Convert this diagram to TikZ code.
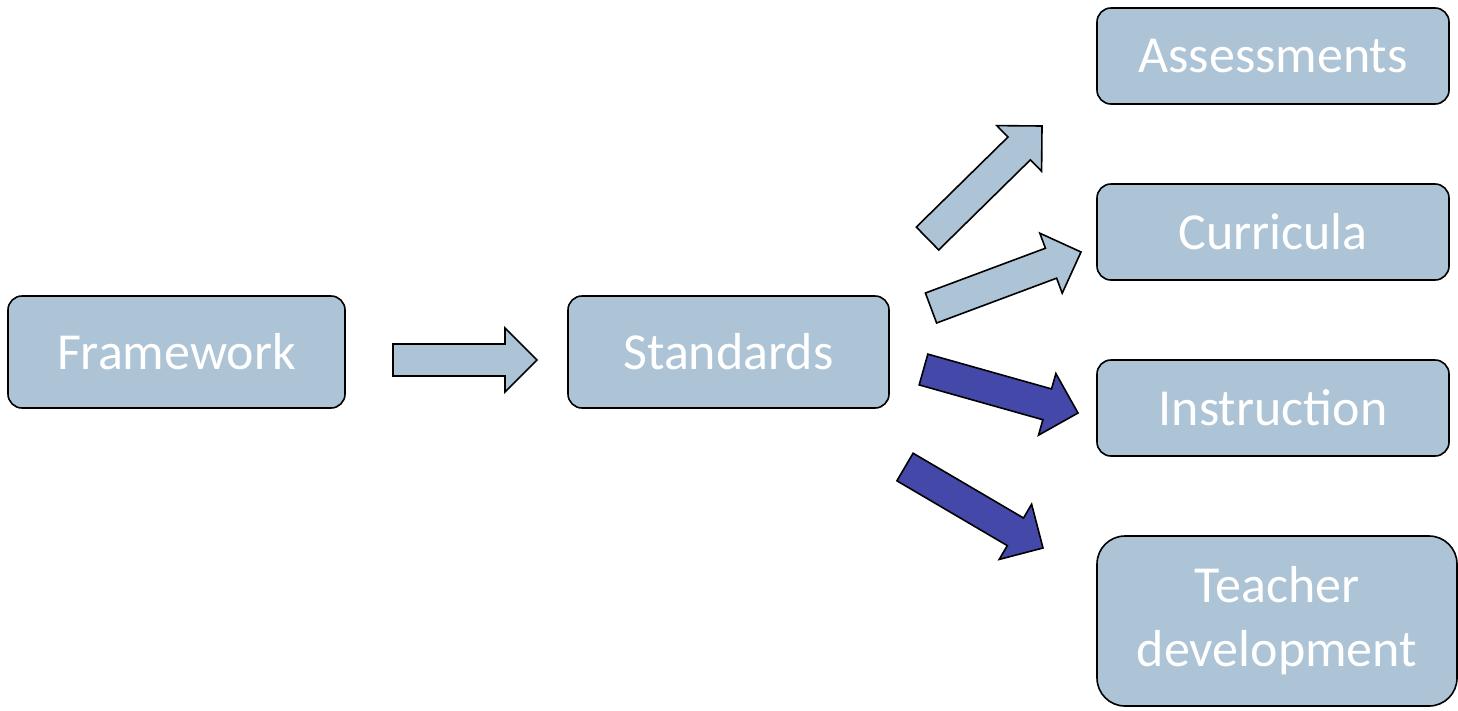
\documentclass[tikz,border=0pt]{standalone}
\usepackage{fontspec}
\setmainfont{Carlito}
\usetikzlibrary{calc}
\definecolor{boxblue}{HTML}{ADC3D6}
\definecolor{darkblue}{HTML}{4448A8}
\tikzset{
  rbox/.style={draw=black, line width=1.6pt, fill=boxblue, rounded corners=14pt, inner sep=0pt,
    text=white, font=\fontsize{52}{64}\selectfont, align=center},
  lightarrow/.style={draw=black, line width=1.6pt, fill=boxblue, line join=miter},
  darkarrow/.style={draw=black, line width=1.6pt, fill=darkblue, line join=miter}
}
\newcommand\blockarrow[3]{%
  \draw[#1] ($(#2)!16pt!90:(#3)$) coordinate (tl)
    -- ($($(#3)!32pt!(#2)$)!16pt!90:(#3)$)
    -- ($($(#3)!32pt!(#2)$)!32pt!90:(#3)$)
    -- (#3)
    -- ($($(#3)!32pt!(#2)$)!32pt!-90:(#3)$)
    -- ($($(#3)!32pt!(#2)$)!16pt!-90:(#3)$)
    -- ($(#2)!16pt!-90:(#3)$) -- cycle;}
\begin{document}
\begin{tikzpicture}[x=1pt,y=-1pt]
\useasboundingbox (0,0) rectangle (1458,710);
% boxes
\node[rbox, minimum width=337pt, minimum height=112pt] (fw) at (176.5,352) {Framework};
\node[rbox, minimum width=321pt, minimum height=112pt] (st) at (728.5,352) {Standards};
\node[rbox, minimum width=352pt, minimum height=96pt] (as) at (1273,56) {Assessments};
\node[rbox, minimum width=352pt, minimum height=96pt] (cu) at (1273,232) {Curricula};
\node[rbox, minimum width=352pt, minimum height=96pt] (in) at (1273,408) {Instruction};
\node[rbox, rounded corners=28pt, minimum width=360pt, minimum height=170pt] (td) at (1277,621) {Teacher\\development};
% arrow end points
\coordinate (a1s) at (393,360);   \coordinate (a1e) at (537,360);
\coordinate (a2s) at (927.5,238.5); \coordinate (a2e) at (1042,126);
\coordinate (a3s) at (931,308);   \coordinate (a3e) at (1081,252);
\coordinate (a4s) at (923.5,369.5); \coordinate (a4e) at (1078,413);
\coordinate (a5s) at (905,467);   \coordinate (a5e) at (1043,548);
\blockarrow{lightarrow}{a1s}{a1e}
\blockarrow{lightarrow}{a2s}{a2e}
\blockarrow{lightarrow}{a3s}{a3e}
\blockarrow{darkarrow}{a4s}{a4e}
\blockarrow{darkarrow}{a5s}{a5e}
\end{tikzpicture}
\end{document}
